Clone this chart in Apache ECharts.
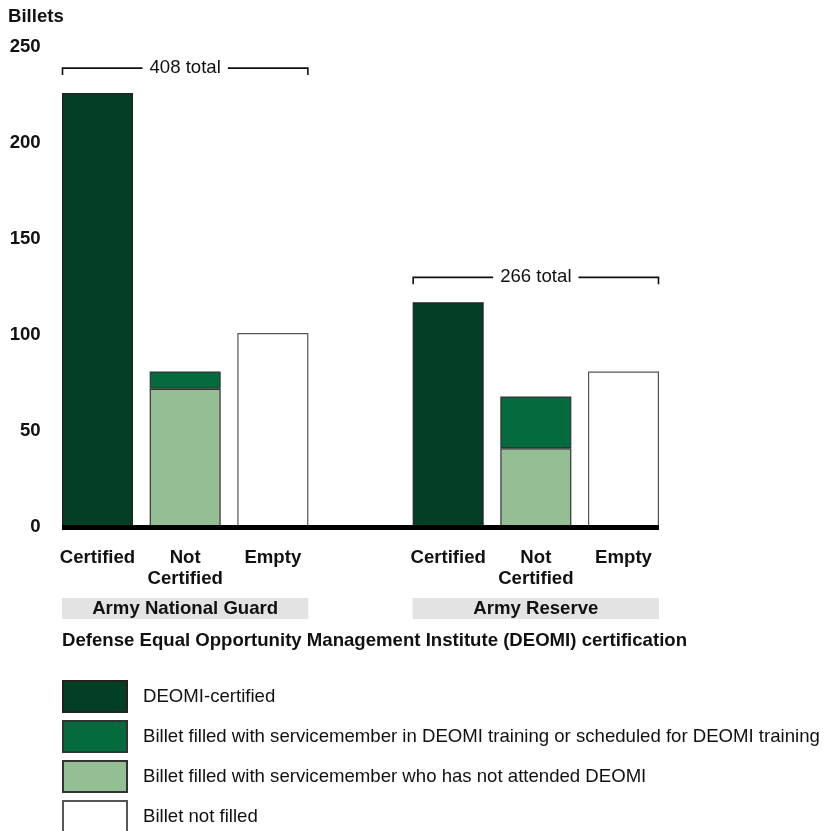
<!DOCTYPE html>
<html>
<head>
<meta charset="utf-8">
<script src="https://cdn.jsdelivr.net/npm/echarts@6/dist/echarts.min.js"></script>
<style>
html,body{margin:0;padding:0;background:#fff;}
#chart{width:825px;height:831px;}
</style>
</head>
<body>
<div id="chart"></div>
<script>
// ---- data ----
var barLabels = ['Certified', 'Not\nCertified', 'Empty', '', 'Certified', 'Not\nCertified', 'Empty'];
var categories = ['ANG-C', 'ANG-N', 'ANG-E', 'gap', 'AR-C', 'AR-N', 'AR-E'];
var groups = ['Army National Guard', 'Army Reserve'];
var groupIndices = [[0, 1, 2], [4, 5, 6]];
var certified   = [226, null, null, null, 117, null, null];
var notAttended = [null, 72, null, null, null, 41, null];
var inTraining  = [null, 9, null, null, null, 27, null];
var notFilled   = [null, null, 101, null, null, null, 81];
var yTicks = [0, 50, 100, 150, 200, 250];
var seriesNames = [
  'DEOMI-certified',
  'Billet filled with servicemember in DEOMI training or scheduled for DEOMI training',
  'Billet filled with servicemember who has not attended DEOMI',
  'Billet not filled'
];

var FONT = '"Liberation Sans", Arial, sans-serif';
var FS = 18.6;
var C_DARK = '#033f25', C_MID = '#046b3f', C_LIGHT = '#94bf95';
var BAR_W = 71;

var chart = echarts.init(document.getElementById('chart'), null, {renderer: 'canvas'});

function barSeries(name, data, color, border) {
  return {
    name: name, type: 'bar', stack: 'a', data: data, barWidth: BAR_W,
    itemStyle: {color: color, borderColor: border, borderWidth: 1.2},
    emphasis: {disabled: true}, animation: false
  };
}

var option = {
  animation: false,
  textStyle: {fontFamily: FONT},
  grid: {left: 53.67, width: 613.67, top: 47, height: 480},
  xAxis: {
    type: 'category', data: categories,
    axisLine: {show: false}, axisTick: {show: false},
    axisLabel: {
      interval: 0, margin: 20, fontSize: FS, fontWeight: 'bold', color: '#111',
      fontFamily: FONT, lineHeight: 21,
      formatter: function (v, i) { return barLabels[i]; }
    }
  },
  yAxis: {
    type: 'value', min: yTicks[0], max: yTicks[yTicks.length - 1], interval: 50,
    axisLine: {show: false}, axisTick: {show: false}, splitLine: {show: false},
    axisLabel: {fontSize: FS, fontWeight: 'bold', color: '#111', margin: 13, fontFamily: FONT}
  },
  legend: {
    orient: 'vertical', left: 62, top: 680, height: 200, padding: 0, itemWidth: 64, itemHeight: 31, itemGap: 7,
    icon: 'rect', selectedMode: false,
    data: [seriesNames[0], seriesNames[1], seriesNames[2], seriesNames[3]],
    textStyle: {fontSize: FS, color: '#111', fontFamily: FONT, padding: [0, 0, 0, 11]}
  },
  series: [
    barSeries(seriesNames[0], certified, C_DARK, '#222'),
    barSeries(seriesNames[2], notAttended, C_LIGHT, '#333'),
    barSeries(seriesNames[1], inTraining, C_MID, '#333'),
    barSeries(seriesNames[3], notFilled, '#ffffff', '#555')
  ]
};
chart.setOption(option);

// ---- decorations computed from the chart's own scales ----
function px(i) { return chart.convertToPixel({xAxisIndex: 0}, i); }
function py(v) { return chart.convertToPixel({yAxisIndex: 0}, v); }

var y0 = py(0);
var xLeft = px(0) - BAR_W / 2, xRight = px(6) + BAR_W / 2;
var elements = [];

// Billets title
elements.push({type: 'text', left: 8, top: 7, style: {text: 'Billets', font: 'bold ' + FS + 'px ' + FONT, fill: '#111'}});

// baseline
elements.push({type: 'rect', shape: {x: xLeft, y: y0 - 2, width: xRight - xLeft, height: 5}, style: {fill: '#000'}, z: 10});

groupIndices.forEach(function (idx, g) {
  var gx0 = px(idx[0]) - BAR_W / 2, gx1 = px(idx[2]) + BAR_W / 2;
  var cx = (gx0 + gx1) / 2;
  var tops = idx.map(function (i) {
    return (certified[i] || 0) + (notAttended[i] || 0) + (inTraining[i] || 0) + (notFilled[i] || 0);
  });
  var total = tops.reduce(function (a, b) { return a + b; }, 0);
  var by = py(Math.max.apply(null, tops)) - 25;
  // bracket
  elements.push({type: 'polyline', shape: {points: [[gx0 + 0.5, by + 7], [gx0 + 0.5, by], [gx1 - 0.5, by], [gx1 - 0.5, by + 7]]},
    style: {stroke: '#111', lineWidth: 1.6, fill: null}});
  elements.push({type: 'text', x: cx, y: by, style: {text: total + ' total', font: FS + 'px ' + FONT, fill: '#111',
    align: 'center', verticalAlign: 'middle', backgroundColor: '#fff', padding: [0, 7]}, z: 5});
  // group band
  elements.push({type: 'rect', shape: {x: gx0, y: y0 + 71, width: gx1 - gx0, height: 21}, style: {fill: '#e3e3e3'}});
  elements.push({type: 'text', x: cx, y: y0 + 81.5, style: {text: groups[g], font: 'bold ' + FS + 'px ' + FONT, fill: '#111',
    align: 'center', verticalAlign: 'middle'}, z: 5});
});

// subtitle
elements.push({type: 'text', x: xLeft, y: y0 + 114, style: {text: 'Defense Equal Opportunity Management Institute (DEOMI) certification',
  font: 'bold ' + FS + 'px ' + FONT, fill: '#111', verticalAlign: 'middle'}});

chart.setOption({graphic: {elements: elements}});
</script>
</body>
</html>
